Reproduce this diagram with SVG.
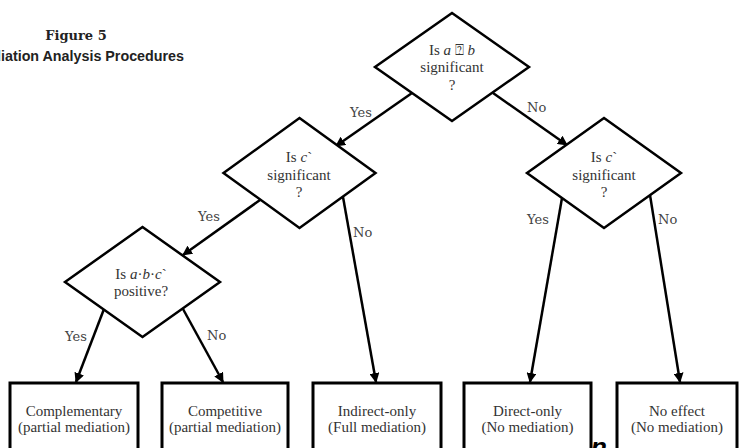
<svg xmlns="http://www.w3.org/2000/svg" width="739" height="448" viewBox="0 0 739 448">
<style>
.bg{fill:#fff}
.dia{fill:#fff;stroke:#000;stroke-width:2.5;stroke-linejoin:miter}
.box{fill:#fff;stroke:#000;stroke-width:3}
.con{fill:none;stroke:#000;stroke-width:2.5}
.t{font-family:"Liberation Serif","Times New Roman",serif;font-size:15px;fill:#333;text-anchor:middle}
.lab{font-family:"DejaVu Serif",serif;font-size:13px;fill:#444}
.i{font-style:italic}
</style>
<defs>
<marker id="ah" viewBox="0 0 10 10" refX="9" refY="5" markerWidth="4" markerHeight="4" orient="auto" markerUnits="strokeWidth">
<path d="M0,0 L10,5 L0,10 Z" fill="#000"/>
</marker>
</defs>
<rect class="bg" x="0" y="0" width="739" height="448"/>
<g id="title">
<text x="76" y="40" font-family="DejaVu Serif,serif" font-weight="bold" font-size="13" text-anchor="middle" fill="#222">Figure 5</text>
<text x="184" y="61" font-family="Liberation Sans,Arial,sans-serif" font-weight="bold" font-size="14.3" text-anchor="end" fill="#222">Mediation Analysis Procedures</text>
</g>
<g id="connectors">
<line class="con" x1="412" y1="93" x2="336" y2="146" marker-end="url(#ah)"/>
<line class="con" x1="493" y1="93" x2="567" y2="145" marker-end="url(#ah)"/>
<line class="con" x1="260" y1="200" x2="183" y2="255" marker-end="url(#ah)"/>
<line class="con" x1="343" y1="197" x2="376" y2="382" marker-end="url(#ah)"/>
<line class="con" x1="562" y1="198" x2="530" y2="382" marker-end="url(#ah)"/>
<line class="con" x1="650" y1="195" x2="680" y2="382" marker-end="url(#ah)"/>
<line class="con" x1="104" y1="309" x2="76" y2="382" marker-end="url(#ah)"/>
<line class="con" x1="183" y1="309" x2="223" y2="382" marker-end="url(#ah)"/>
<text class="lab" x="350" y="117">Yes</text>
<text class="lab" x="527" y="112">No</text>
<text class="lab" x="198" y="221">Yes</text>
<text class="lab" x="353" y="237">No</text>
<text class="lab" x="527" y="224">Yes</text>
<text class="lab" x="658" y="224">No</text>
<text class="lab" x="65" y="341">Yes</text>
<text class="lab" x="207" y="340">No</text>
</g>
<g id="q1">
<polygon class="dia" points="452,13 529,67 452,121 375,67"/>
<text class="t" x="452" y="55">Is <tspan class="i">a</tspan> ⍰ <tspan class="i">b</tspan></text>
<text class="t" x="452" y="72">significant</text>
<text class="t" x="452" y="90">?</text>
</g>
<g id="q2">
<polygon class="dia" points="299.5,118 375.5,173 299.5,228 223.5,173"/>
<text class="t" x="299" y="162">Is <tspan class="i">c</tspan>`</text>
<text class="t" x="299" y="180">significant</text>
<text class="t" x="299" y="197">?</text>
</g>
<g id="q3">
<polygon class="dia" points="604,118 681,173 604,228 527,173"/>
<text class="t" x="604" y="162">Is <tspan class="i">c</tspan>`</text>
<text class="t" x="604" y="180">significant</text>
<text class="t" x="604" y="197">?</text>
</g>
<g id="q4">
<polygon class="dia" points="142.5,227 220,282 142.5,337 65,282"/>
<text class="t" x="141" y="279">Is <tspan class="i">a</tspan>·<tspan class="i">b</tspan>·<tspan class="i">c</tspan>`</text>
<text class="t" x="141" y="296">positive?</text>
</g>
<g id="r1">
<rect class="box" x="10" y="383" width="128" height="90"/>
<text class="t" x="74" y="416">Complementary</text>
<text class="t" x="74" y="432">(partial mediation)</text>
</g>
<g id="r2">
<rect class="box" x="162" y="383" width="126" height="90"/>
<text class="t" x="225" y="416">Competitive</text>
<text class="t" x="225" y="432">(partial mediation)</text>
</g>
<g id="r3">
<rect class="box" x="313" y="383" width="128" height="90"/>
<text class="t" x="377" y="416">Indirect-only</text>
<text class="t" x="377" y="432">(Full mediation)</text>
</g>
<g id="r4">
<rect class="box" x="464" y="383" width="127" height="90"/>
<text class="t" x="527.5" y="416">Direct-only</text>
<text class="t" x="527.5" y="432">(No mediation)</text>
</g>
<g id="r5">
<rect class="box" x="617" y="383" width="120" height="90"/>
<text class="t" x="677" y="416">No effect</text>
<text class="t" x="677" y="432">(No mediation)</text>
</g>
<text x="591" y="456" font-family="Liberation Sans,Arial,sans-serif" font-weight="bold" font-style="italic" font-size="26" fill="#000">n</text>
</svg>
